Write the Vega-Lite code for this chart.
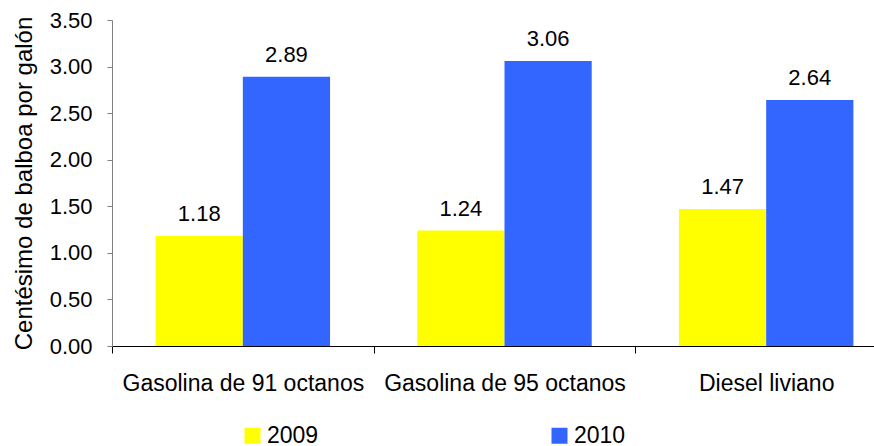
{
  "$schema": "https://vega.github.io/schema/vega-lite/v6.json",
  "width": 762,
  "height": 326,
  "autosize": {"type": "none"},
  "padding": {"left": 112, "top": 20, "right": 0, "bottom": 100},
  "background": "white",
  "config": {
    "view": {"stroke": null},
    "font": "Liberation Sans",
    "axis": {"labelFont": "Liberation Sans", "titleFont": "Liberation Sans", "labelColor": "black", "titleColor": "black", "labelFontSize": 22, "titleFontSize": 22, "titleFontWeight": "normal", "grid": false, "domainColor": "black", "tickColor": "black"},
    "legend": {"labelFont": "Liberation Sans", "labelFontSize": 23, "labelColor": "black"}
  },
  "data": {
    "values": [
      {"combustible": "Gasolina de 91 octanos", "anio": "2009", "valor": 1.18},
      {"combustible": "Gasolina de 91 octanos", "anio": "2010", "valor": 2.89},
      {"combustible": "Gasolina de 95 octanos", "anio": "2009", "valor": 1.24},
      {"combustible": "Gasolina de 95 octanos", "anio": "2010", "valor": 3.06},
      {"combustible": "Diesel liviano", "anio": "2009", "valor": 1.47},
      {"combustible": "Diesel liviano", "anio": "2010", "valor": 2.64}
    ]
  },
  "encoding": {
    "x": {
      "field": "combustible", "type": "nominal",
      "sort": ["Gasolina de 91 octanos", "Gasolina de 95 octanos", "Diesel liviano"],
      "scale": {"range": [0, 785], "paddingInner": 0, "paddingOuter": 0},
      "axis": {"title": null, "labelAngle": 0, "tickBand": "extent", "tickSize": 7, "labelPadding": 19, "labelFontSize": 23, "domainColor": "black", "labelLimit": 400}
    },
    "xOffset": {
      "field": "anio", "type": "nominal",
      "scale": {"paddingInner": 0, "paddingOuter": 0.5}
    },
    "y": {
      "field": "valor", "type": "quantitative",
      "scale": {"domain": [0, 3.5], "nice": false},
      "axis": {"title": "Centésimo de balboa por galón", "titleFontSize": 24, "values": [0, 0.5, 1, 1.5, 2, 2.5, 3, 3.5], "format": ".2f", "tickSize": 5, "labelPadding": 15, "titlePadding": 13, "domainColor": "#808080", "tickColor": "#808080"}
    }
  },
  "layer": [
    {
      "mark": {"type": "bar"},
      "encoding": {
        "color": {
          "field": "anio", "type": "nominal",
          "scale": {"domain": ["2009", "2010"], "range": ["#FFFF00", "#3366FF"]},
          "legend": {"title": null, "orient": "none", "legendX": 129, "legendY": 404, "direction": "horizontal", "columns": 2, "columnPadding": 229, "symbolType": "square", "symbolSize": 256, "symbolStrokeWidth": 0, "labelOffset": 3, "padding": 0}
        }
      }
    },
    {
      "mark": {"type": "text", "baseline": "alphabetic", "dy": -15, "fontSize": 22, "font": "Liberation Sans", "color": "black"},
      "encoding": {
        "text": {"field": "valor", "type": "quantitative", "format": ".2f"}
      }
    }
  ]
}
